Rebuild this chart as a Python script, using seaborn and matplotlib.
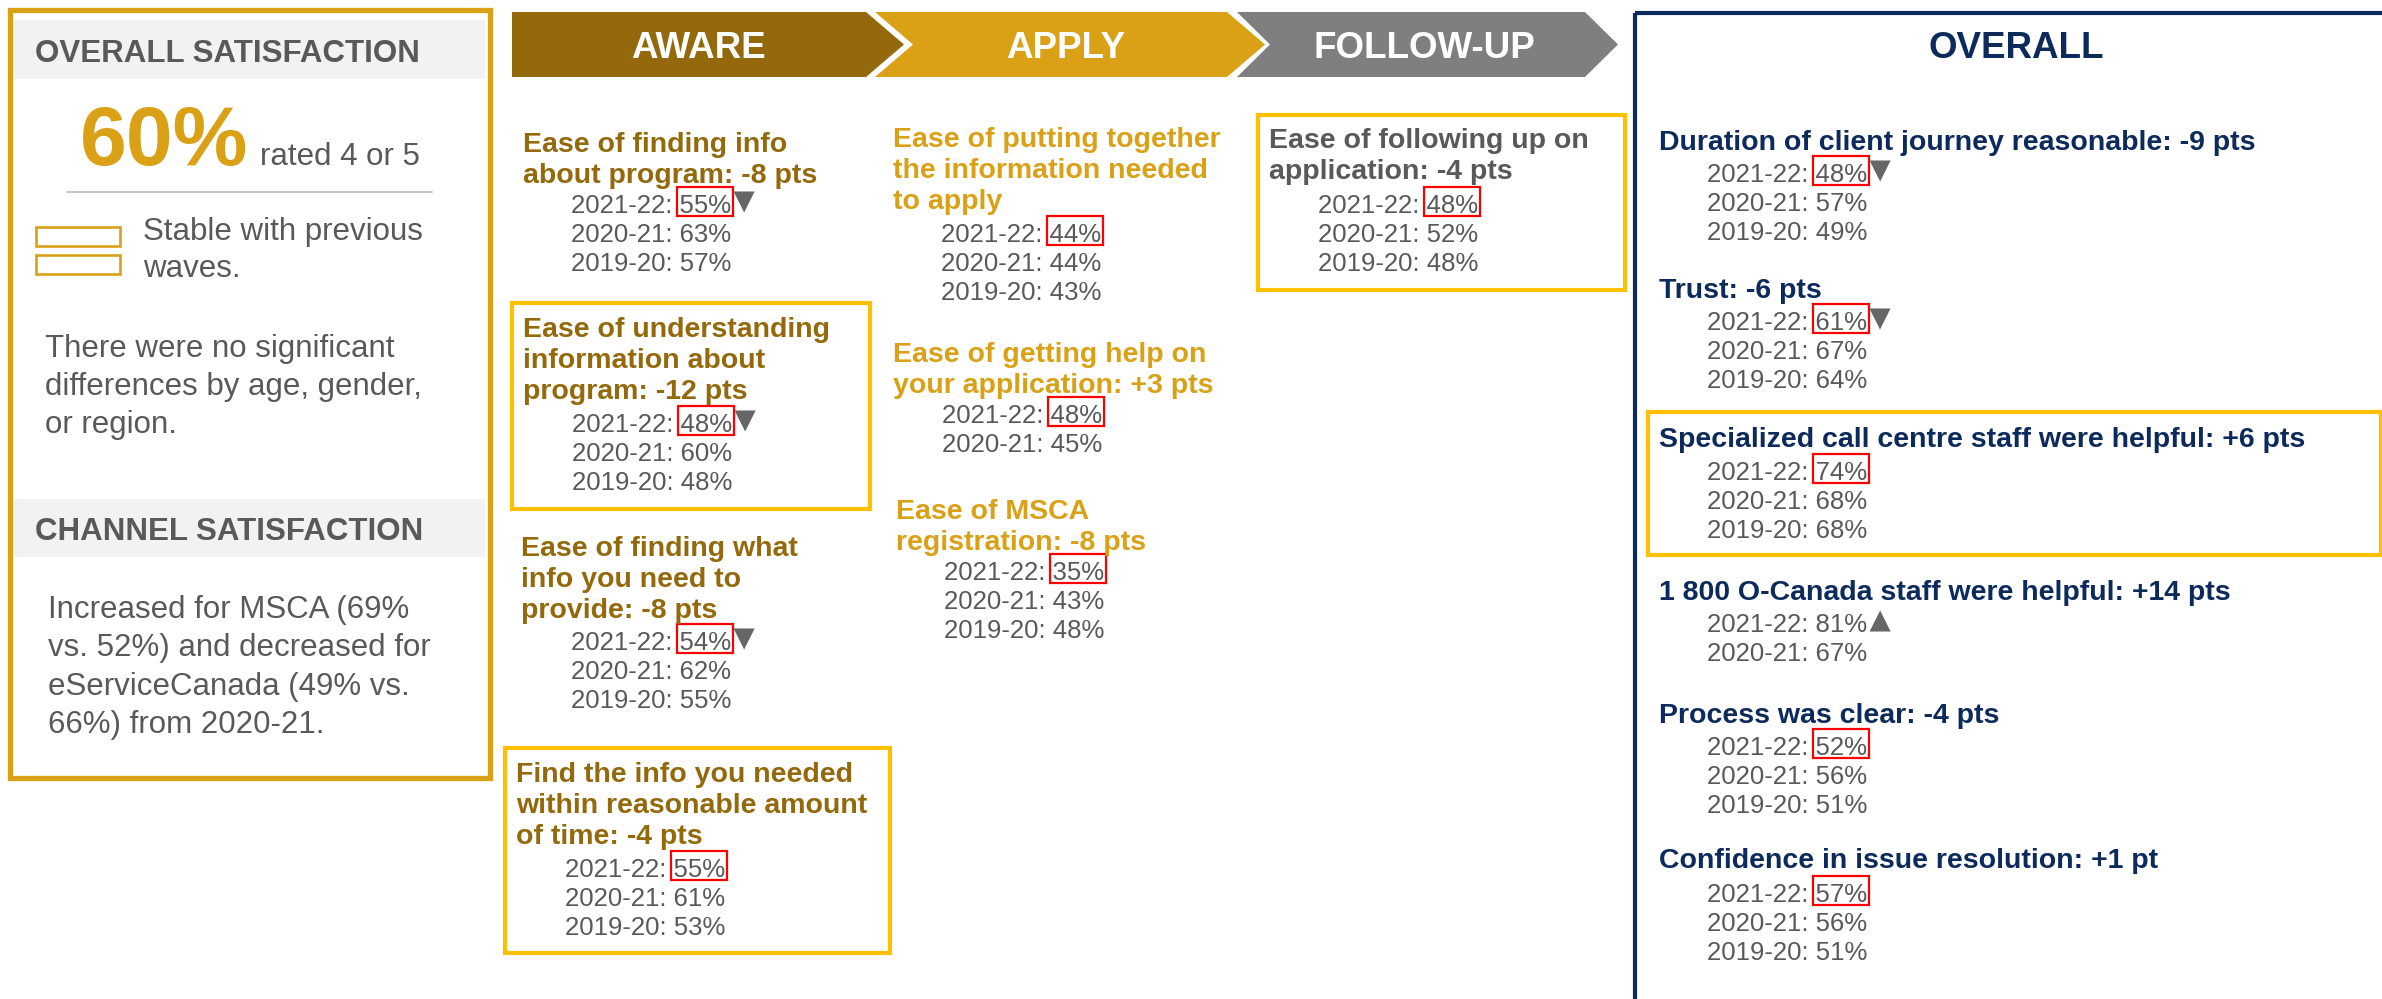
import matplotlib
matplotlib.use("Agg")
import matplotlib.pyplot as plt
from matplotlib.patches import Polygon, Rectangle
import seaborn as sns
import pandas as pd

# ----------------------------- DATA -----------------------------
years = ["2021-22", "2020-21", "2019-20"]

overall_sat_pct = "60%"
overall_sat_label = "rated 4 or 5"
stable_text = ["Stable with previous", "waves."]
no_diff_text = ["There were no significant", "differences by age, gender,", "or region."]
channel_text = ["Increased for MSCA (69%", "vs. 52%) and decreased for",
                "eServiceCanada (49% vs.", "66%) from 2020-21."]

stages = ["AWARE", "APPLY", "FOLLOW-UP"]

aware_titles = ["Ease of finding info\nabout program: -8 pts",
                "Ease of understanding\ninformation about\nprogram: -12 pts",
                "Ease of finding what\ninfo you need to\nprovide: -8 pts",
                "Find the info you needed\nwithin reasonable amount\nof time: -4 pts"]
aware_values = [[55, 63, 57], [48, 60, 48], [54, 62, 55], [55, 61, 53]]
aware_trend = ["down", "down", "down", None]
aware_flagged = [True, True, True, True]
aware_highlight = [False, True, False, True]

apply_titles = ["Ease of putting together\nthe information needed\nto apply",
                "Ease of getting help on\nyour application: +3 pts",
                "Ease of MSCA\nregistration: -8 pts"]
apply_values = [[44, 44, 43], [48, 45, None], [35, 43, 48]]
apply_trend = [None, None, None]
apply_flagged = [True, True, True]
apply_highlight = [False, False, False]

follow_titles = ["Ease of following up on\napplication: -4 pts"]
follow_values = [[48, 52, 48]]
follow_trend = [None]
follow_flagged = [True]
follow_highlight = [True]

overall_titles = ["Duration of client journey reasonable: -9 pts",
                  "Trust: -6 pts",
                  "Specialized call centre staff were helpful: +6 pts",
                  "1 800 O-Canada staff were helpful: +14 pts",
                  "Process was clear: -4 pts",
                  "Confidence in issue resolution: +1 pt"]
overall_values = [[48, 57, 49], [61, 67, 64], [74, 68, 68], [81, 67, None],
                  [52, 56, 51], [57, 56, 51]]
overall_trend = ["down", "down", None, "up", None, None]
overall_flagged = [True, True, True, False, True, True]
overall_highlight = [False, False, True, False, False, False]

# ----------------------------- STYLE / LAYOUT -----------------------------
GOLD = "#DAA016"
BROWN = "#94690C"
GREY_CHEV = "#7F7F7F"
TXT = "#595959"
NAVY = "#0C2B5C"
YELLOW = "#FFC000"
RED = "#FF0000"
TRI = "#666666"

sns.set_theme(style="white")
plt.rcParams["font.family"] = ["Liberation Sans", "DejaVu Sans"]

W, H = 2382, 999
fig = plt.figure(figsize=(W / 100, H / 100), dpi=100)
ax = fig.add_axes([0, 0, 1, 1])
ax.set_xlim(0, W)
ax.set_ylim(H, 0)
ax.axis("off")
renderer = fig.canvas.get_renderer()
inv = ax.transData.inverted()

# layouts: (title_x, first_title_baseline, data_x, first_data_baseline)
aware_layout = [(523, 152, 571, 213), (523, 337, 572, 432), (521, 556, 571, 650), (516, 782, 565, 877)]
aware_boxes = {1: (512, 303, 870, 509), 3: (505, 748, 890, 953)}
apply_layout = [(893, 147, 941, 242), (893, 362, 942, 423), (896, 519, 944, 580)]
apply_boxes = {}
follow_layout = [(1269, 148, 1318, 213)]
follow_boxes = {0: (1258, 115, 1625, 290)}
overall_layout = [(1659, 150, 1707, 182), (1659, 298, 1707, 330), (1659, 447, 1707, 480),
                  (1659, 600, 1707, 632), (1659, 723, 1707, 755), (1659, 868, 1707, 902)]
overall_boxes = {2: (1648, 412, 2381, 555)}

TITLE_FS = 20.5
DATA_FS = 18.5
TITLE_SP = 31
DATA_SP = 28.8

tri_x, tri_y, tri_m = [], [], []


def text_width(s, fs, weight="normal"):
    t = ax.text(0, 0, s, fontsize=fs, fontweight=weight)
    bb = t.get_window_extent(renderer=renderer)
    t.remove()
    return bb.width


def draw_items(titles, values, trend, flagged, highlight, layout, boxes, tcolor):
    for i, title in enumerate(titles):
        tx, ty, dx, dy = layout[i]
        if highlight[i] and i in boxes:
            x0, y0, x1, y1 = boxes[i]
            ax.add_patch(Rectangle((x0, y0), x1 - x0, y1 - y0, fill=False,
                                   edgecolor=YELLOW, linewidth=3.0, joinstyle="miter"))
        for k, line in enumerate(title.split("\n")):
            ax.text(tx, ty + k * TITLE_SP, line, fontsize=TITLE_FS, fontweight="bold",
                    color=tcolor, va="baseline", ha="left")
        row = 0
        for yr, v in zip(years, values[i]):
            if v is None:
                continue
            by = dy + row * DATA_SP
            s = f"{yr}: {v}%"
            t = ax.text(dx, by, s, fontsize=DATA_FS, color=TXT, va="baseline", ha="left")
            if row == 0:
                bb = t.get_window_extent(renderer=renderer)
                xr = inv.transform((bb.x1, 0))[0]
                wv = text_width(f"{v}%", DATA_FS)
                xl = xr - wv
                right = xr + 2
                if flagged[i]:
                    ax.add_patch(Rectangle((xl - 3, by - 26), right - (xl - 3), 29, fill=False,
                                           edgecolor=RED, linewidth=1.6))
                if trend[i] is not None:
                    tri_x.append(right + 11)
                    tri_y.append(by - 11)
                    tri_m.append(trend[i])
            row += 1


# ---- left panel ----
ax.add_patch(Rectangle((10, 10), 480, 768, fill=False, edgecolor=GOLD, linewidth=3.8))
ax.add_patch(Rectangle((14, 20), 471, 59, facecolor="#F2F2F2", edgecolor="none"))
ax.text(35, 62, "OVERALL SATISFACTION", fontsize=22.5, fontweight="bold", color=TXT, va="baseline")
ax.text(80, 165, overall_sat_pct, fontsize=60.5, fontweight="bold", color=GOLD, va="baseline")
ax.text(260, 165, overall_sat_label, fontsize=22.5, color=TXT, va="baseline")
ax.plot([67, 432], [192, 192], color="#BFBFBF", linewidth=1.3)
for y0 in (227, 255):
    ax.add_patch(Rectangle((36, y0), 84, 19, fill=False, edgecolor=GOLD, linewidth=1.9))
for k, line in enumerate(stable_text):
    ax.text(143, 240 + k * 37, line, fontsize=22.5, color=TXT, va="baseline")
for k, line in enumerate(no_diff_text):
    ax.text(45, 357 + k * 38, line, fontsize=22.5, color=TXT, va="baseline")
ax.add_patch(Rectangle((14, 499), 471, 58, facecolor="#F2F2F2", edgecolor="none"))
ax.text(35, 540, "CHANNEL SATISFACTION", fontsize=22.5, fontweight="bold", color=TXT, va="baseline")
for k, line in enumerate(channel_text):
    ax.text(48, 618 + k * 38.3, line, fontsize=22.5, color=TXT, va="baseline")

# ---- chevrons ----
chev_geom = [(512, 866, 904, False), (875, 1227, 1265, True), (1237, 1585, 1618, True)]
chev_colors = [BROWN, GOLD, GREY_CHEV]
chev_text_x = [698, 1066, 1424]
ytop, ybot = 12, 77
ymid = (ytop + ybot) / 2
for (x0, x1, xt, notch), col, lab, cx in zip(chev_geom, chev_colors, stages, chev_text_x):
    pts = [(x0, ytop), (x1, ytop), (xt, ymid), (x1, ybot), (x0, ybot)]
    if notch:
        pts.append((x0 + (xt - x1), ymid))
    ax.add_patch(Polygon(pts, closed=True, facecolor=col, edgecolor="none"))
    ax.text(cx, 58, lab, fontsize=26.5, fontweight="bold", color="white", ha="center", va="baseline")

# ---- overall panel ----
ax.add_patch(Rectangle((1635, 13), 1000, 1100, fill=False, edgecolor=NAVY, linewidth=3.0))
ax.text(2016, 58, "OVERALL", fontsize=26.5, fontweight="bold", color=NAVY, ha="center", va="baseline")

draw_items(aware_titles, aware_values, aware_trend, aware_flagged, aware_highlight,
           aware_layout, aware_boxes, BROWN)
draw_items(apply_titles, apply_values, apply_trend, apply_flagged, apply_highlight,
           apply_layout, apply_boxes, GOLD)
draw_items(follow_titles, follow_values, follow_trend, follow_flagged, follow_highlight,
           follow_layout, follow_boxes, TXT)
draw_items(overall_titles, overall_values, overall_trend, overall_flagged, overall_highlight,
           overall_layout, overall_boxes, NAVY)

# ---- trend triangles ----
tri = pd.DataFrame({"x": tri_x, "y": tri_y, "dir": tri_m})
sns.scatterplot(data=tri, x="x", y="y", style="dir", markers={"down": "v", "up": "^"},
                s=230, color=TRI, linewidth=0, legend=False, ax=ax)
ax.set_xlim(0, W)
ax.set_ylim(H, 0)
ax.axis("off")

fig.savefig("out.png", dpi=100, facecolor="white")
